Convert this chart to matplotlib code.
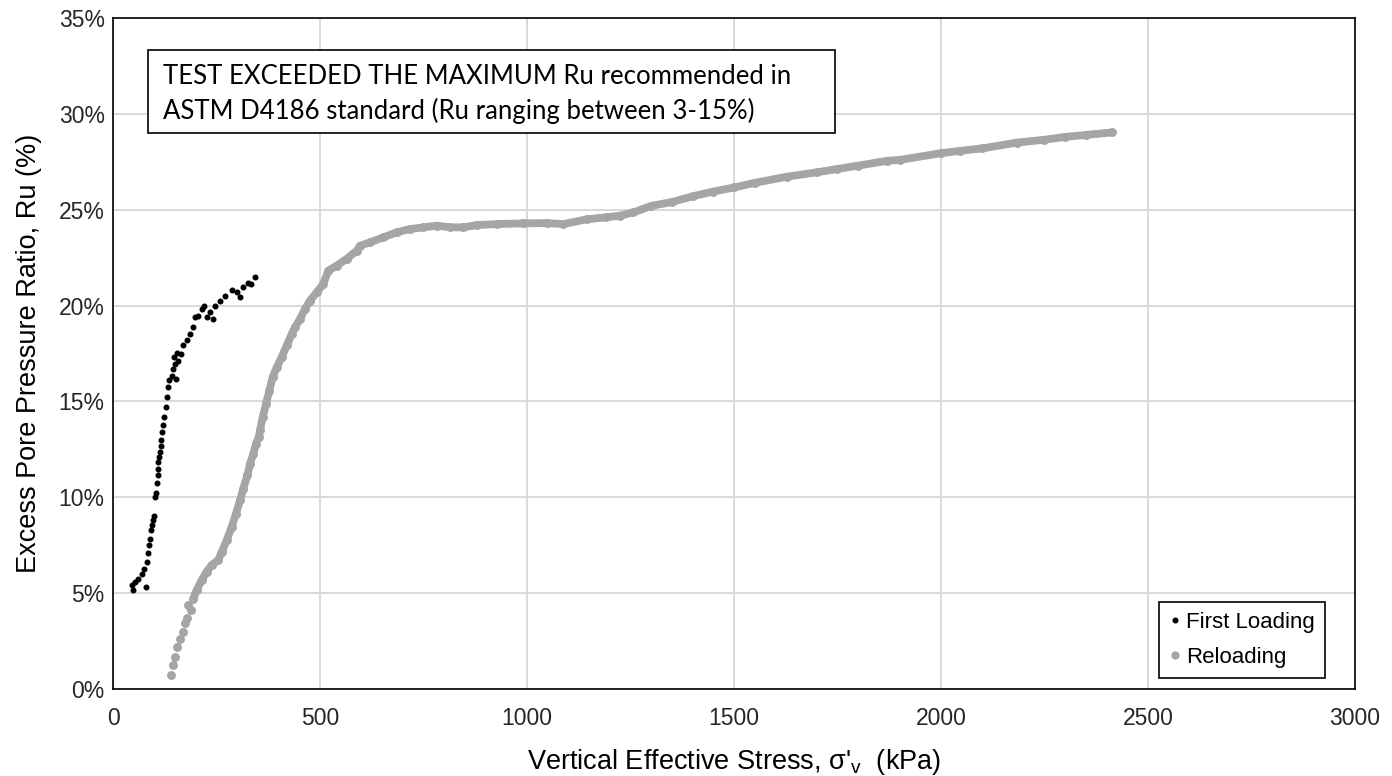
import matplotlib
matplotlib.use("Agg")
import matplotlib.pyplot as plt
from matplotlib.patches import Rectangle
from matplotlib.ticker import FuncFormatter, MultipleLocator
from matplotlib.lines import Line2D

plt.rcParams['font.family'] = ['Liberation Sans', 'DejaVu Sans']
plt.rcParams['mathtext.fontset'] = 'custom'
plt.rcParams['mathtext.rm'] = 'Liberation Sans'

# First loading: vertical effective stress (kPa) vs Ru (%)
first_stress = [45, 49, 53, 61, 79, 69, 75.6, 81, 84, 87, 89, 92, 95, 97, 100,
                101, 103, 105.5, 108, 109.5, 108, 111, 113.5, 115, 116, 119, 121.5,
                124, 127, 130, 132, 135, 141.8, 151.4, 145.6, 150, 148, 153.7, 157.7,
                164, 170, 178, 186, 194, 198, 206, 215.7, 220.5, 226, 242, 234, 246,
                258, 270.5, 286.7, 306.8, 299, 314.7, 327, 333, 343]
first_ru = [5.42, 5.16, 5.59, 5.76, 5.3, 6.02, 6.28, 6.63, 7.07, 7.5, 7.85, 8.28,
            8.54, 8.8, 9.0, 10.0, 10.2, 10.75, 11.15, 11.5, 11.84, 12.1, 12.36, 12.7,
            13.0, 13.4, 13.75, 14.18, 14.7, 15.22, 15.74, 16.1, 16.35, 16.18, 16.7,
            16.96, 17.3, 17.53, 17.13, 17.48, 17.92, 18.18, 18.52, 18.87, 19.39,
            19.48, 19.83, 20.0, 19.39, 19.3, 19.65, 20.0, 20.26, 20.52, 20.83, 20.43,
            20.69, 20.95, 21.2, 21.13, 21.47]

# Reloading
reload_stress = [139, 144, 150, 155.5, 162, 168, 174, 178, 182, 187.6, 194, 202, 214,
                 226, 238, 254, 262.6, 274.6, 286.6, 297, 306.8, 314.7, 324.5, 331,
                 339, 345.4, 352, 355, 361.6, 369.6, 377.5, 385.7, 395.4, 407.5, 419.6,
                 431.6, 439.6, 451.7, 463.8, 475.8, 492, 508, 520, 540, 564, 588.6,
                 596.6, 620.8, 653, 685, 717, 749.5, 782, 814, 846, 878.5, 927, 991,
                 1048, 1088, 1144, 1190, 1225, 1257, 1300, 1350, 1400, 1450, 1500,
                 1550, 1627, 1700, 1748, 1800, 1869, 1901, 2000, 2046, 2100, 2183,
                 2250, 2300, 2350, 2412]
reload_ru = [0.73, 1.25, 1.68, 2.17, 2.59, 2.98, 3.42, 3.68, 4.375, 4.11, 4.72, 5.16,
             5.68, 6.11, 6.46, 6.72, 7.15, 7.76, 8.45, 9.15, 9.84, 10.45, 11.15, 11.75,
             12.27, 12.8, 13.14, 13.49, 14.18, 14.88, 15.57, 16.27, 16.79, 17.31,
             17.92, 18.52, 18.87, 19.3, 19.83, 20.26, 20.69, 21.13, 21.82, 22.08,
             22.43, 22.86, 23.12, 23.3, 23.56, 23.82, 23.99, 24.08, 24.17, 24.08,
             24.08, 24.2, 24.25, 24.29, 24.3, 24.25, 24.5, 24.6, 24.69, 24.86, 25.2,
             25.4, 25.7, 25.95, 26.16, 26.4, 26.72, 26.95, 27.12, 27.3, 27.55, 27.6,
             27.95, 28.07, 28.2, 28.5, 28.65, 28.8, 28.9, 29.03]

GRAY = '#A5A5A5'
GRID = '#D9D9D9'

fig = plt.figure(figsize=(13.92, 7.76), dpi=100)
ax = fig.add_axes([0.0812, 0.1121, 0.8922, 0.8647])

# dense part of the reloading curve shows as a solid band
ax.plot(reload_stress[10:], reload_ru[10:], color=GRAY, lw=5.6,
        solid_capstyle='round', solid_joinstyle='round', zorder=2)
ax.plot(reload_stress, reload_ru, ls='none', marker='o', ms=5.4, color=GRAY,
        mec=GRAY, zorder=3)
ax.plot(first_stress, first_ru, ls='none', marker='o', ms=3.3, color='black',
        mec='black', zorder=4)

ax.set_xlim(0, 3000)
ax.set_ylim(0, 35)
ax.xaxis.set_major_locator(MultipleLocator(500))
ax.yaxis.set_major_locator(MultipleLocator(5))
ax.yaxis.set_major_formatter(FuncFormatter(lambda v, p: f"{v:.0f}%"))
ax.grid(True, color=GRID, lw=1.4, zorder=0)
ax.set_axisbelow(True)
ax.tick_params(length=0, labelsize=16.5, colors='#262626')
ax.tick_params(axis='x', pad=13)
ax.tick_params(axis='y', pad=6)
for s in ax.spines.values():
    s.set_color('black')
    s.set_linewidth(1.2)

ax.set_xlabel(r"Vertical Effective Stress, σ'$_\mathregular{v}$  (kPa)",
              fontsize=19.5, labelpad=12)
ax.set_ylabel("Excess Pore Pressure Ratio, Ru (%)", fontsize=19.5, labelpad=12)

# note box
ax.add_patch(Rectangle((0.0282, 0.8286), 0.5531, 0.1237, transform=ax.transAxes,
                       fill=True, facecolor='white', edgecolor='black', lw=1.2,
                       zorder=5))
note_font = dict(family=['Lato', 'DejaVu Sans'], fontsize=18.5, color='black',
                 transform=ax.transAxes, va='center', ha='left', zorder=6)
ax.text(0.0403, 0.913, "TEST EXCEEDED THE MAXIMUM Ru recommended in", **note_font)
ax.text(0.0403, 0.861, "ASTM D4186 standard (Ru ranging between 3-15%)", **note_font)

handles = [Line2D([], [], ls='none', marker='o', ms=3.3, color='black'),
           Line2D([], [], ls='none', marker='o', ms=5.0, color=GRAY)]
leg = ax.legend(handles, ["First Loading", "Reloading"], loc='lower right',
                bbox_to_anchor=(0.976, 0.0164), borderaxespad=0, fontsize=16,
                frameon=True, fancybox=False, edgecolor='black', framealpha=1,
                handlelength=0.6, handletextpad=0.2, labelspacing=0.65,
                borderpad=0.45)
leg.get_frame().set_linewidth(1.2)

fig.savefig("out.png", dpi=100)
